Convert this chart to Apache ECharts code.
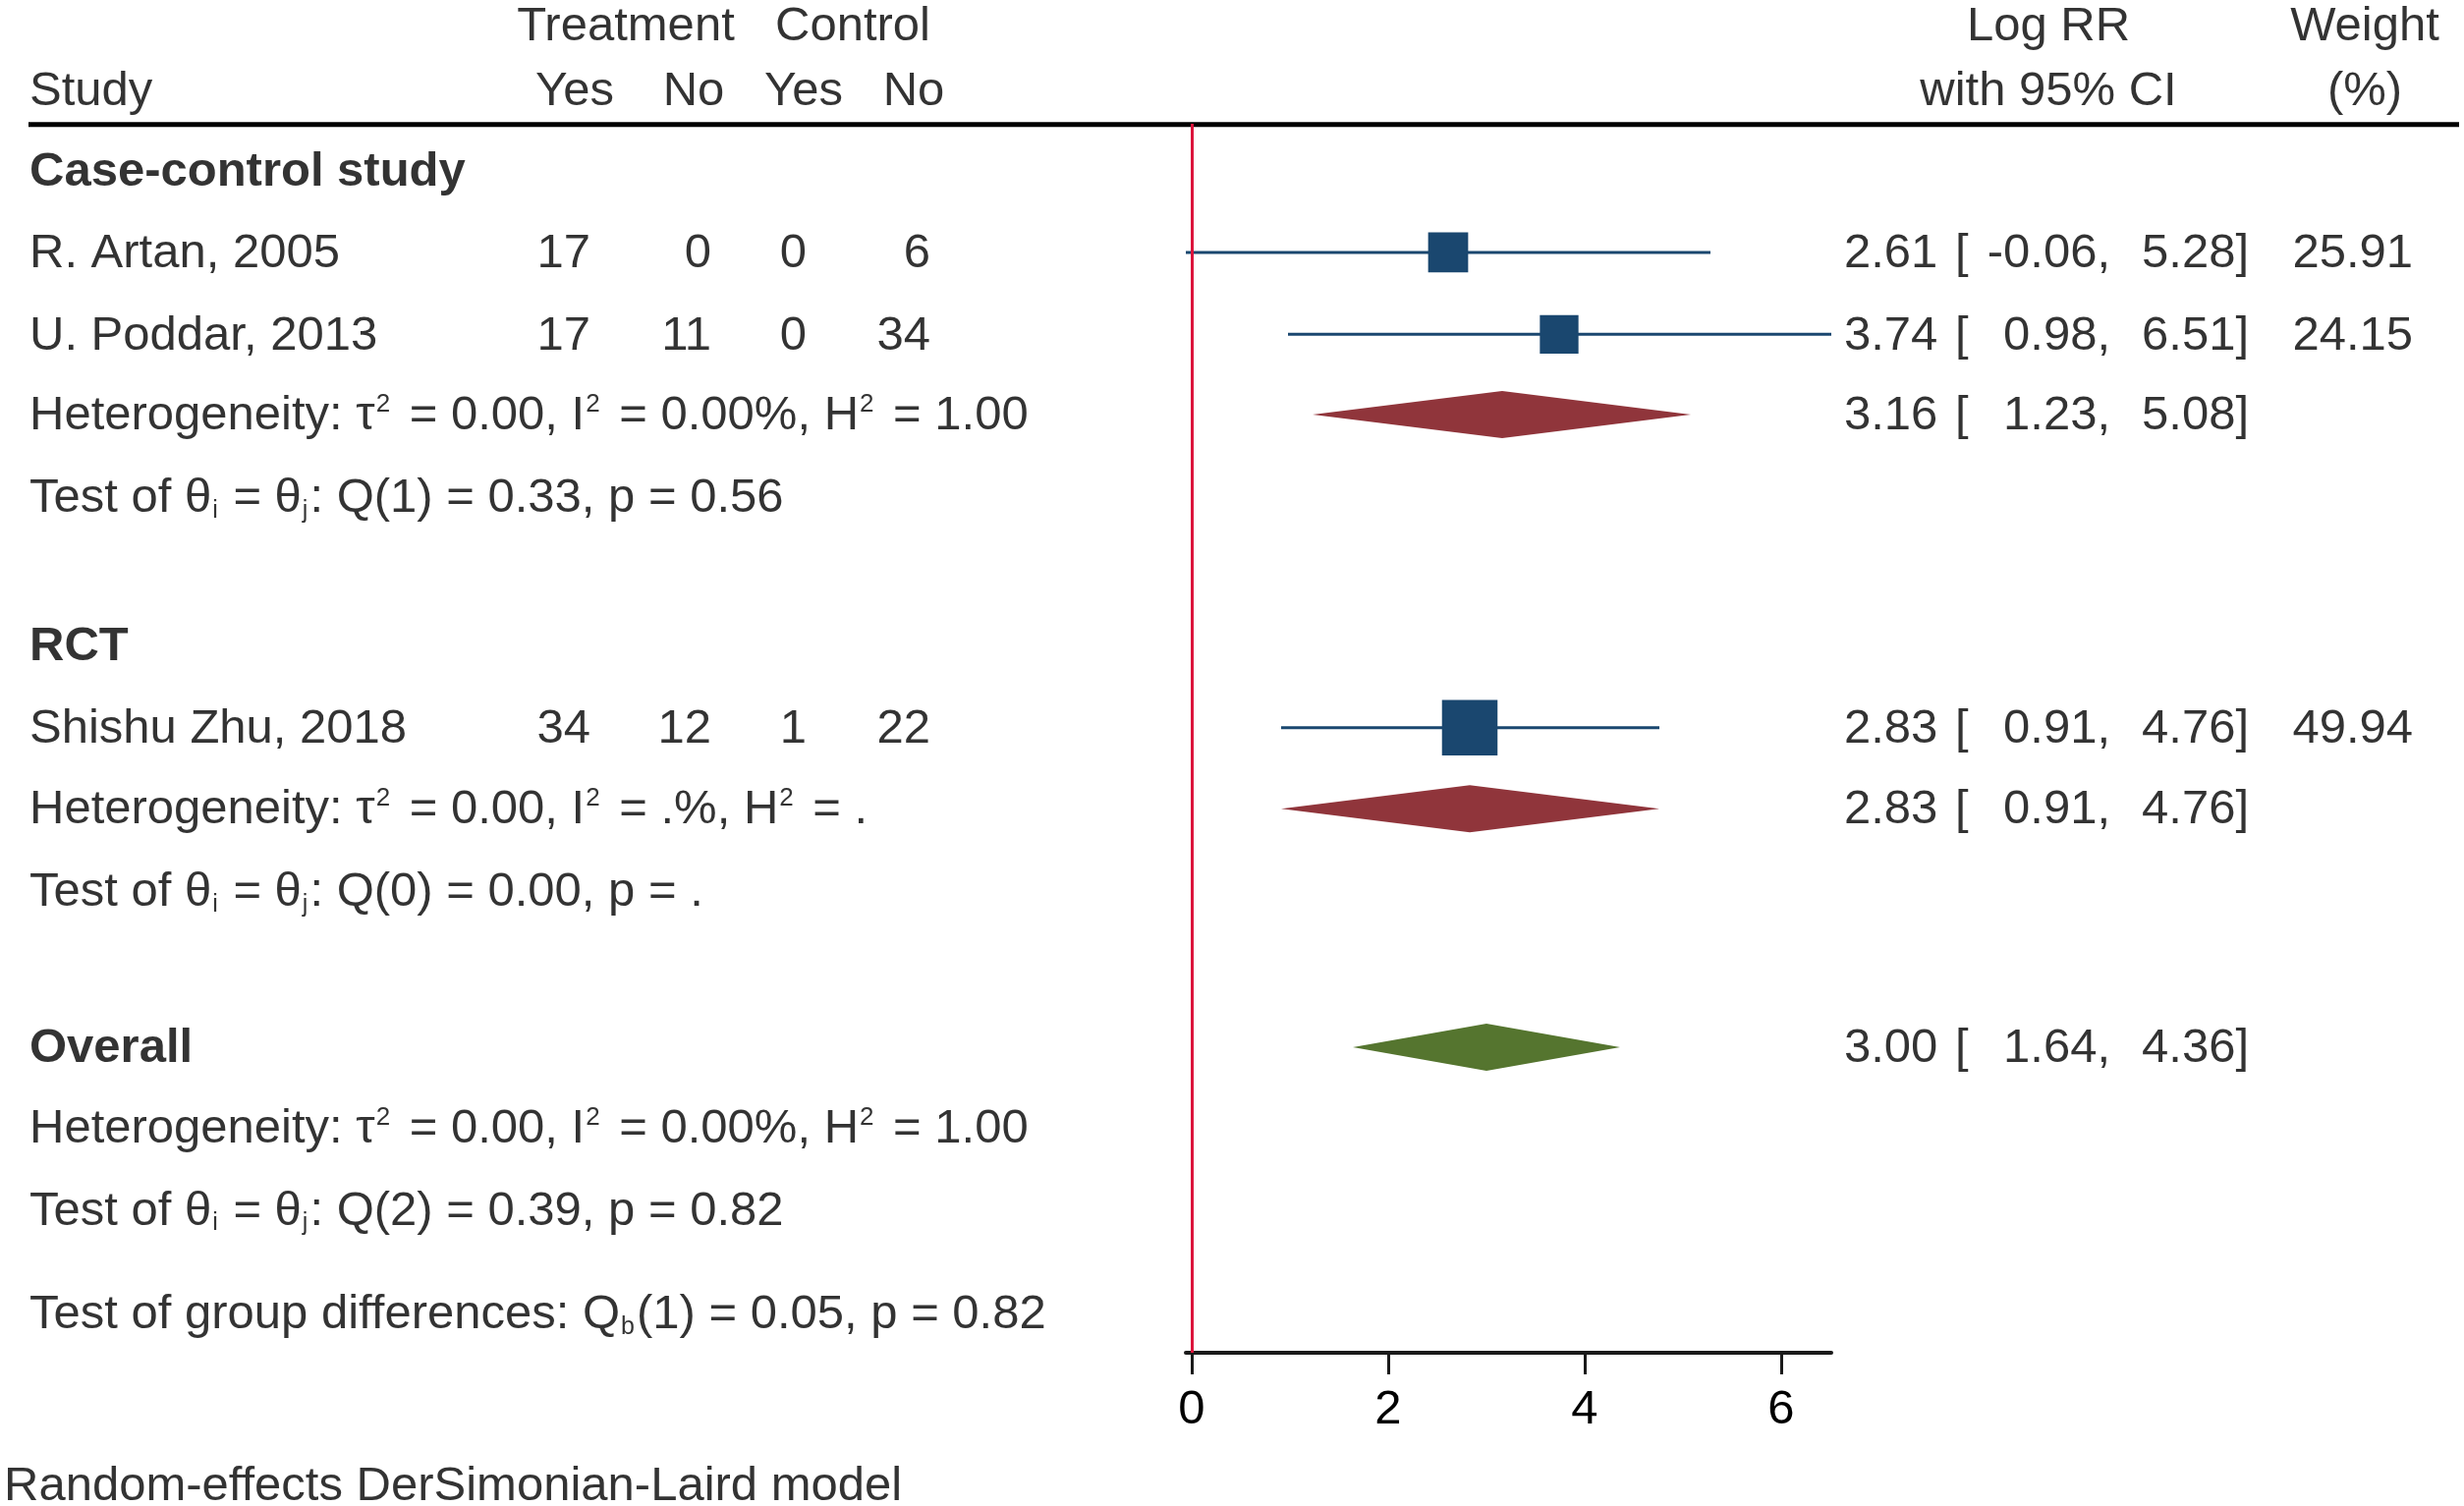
<!DOCTYPE html>
<html><head><meta charset="utf-8">
<script src="https://cdn.jsdelivr.net/npm/echarts@6.0.0/dist/echarts.min.js"></script>
<style>html,body{margin:0;padding:0;background:#fff}#c{width:2508px;height:1533px}</style>
</head><body><div id="c"></div>
<script>
// ---------- data ----------
const studyNames = ['R. Artan, 2005', 'U. Poddar, 2013', 'Shishu Zhu, 2018'];
const treatYes = [17, 17, 34];
const treatNo = [0, 11, 12];
const ctrlYes = [0, 0, 1];
const ctrlNo = [6, 34, 22];
const logRR = [2.61, 3.74, 2.83];
const ciLow = [-0.06, 0.98, 0.91];
const ciHigh = [5.28, 6.51, 4.76];
const weights = [25.91, 24.15, 49.94];
const studyRows = [1.57, 2.57, 7.37];

const groupNames = ['Case-control study', 'RCT'];
const groupHeaderRows = [0.57, 6.37];
const groupEst = [3.16, 2.83];
const groupLow = [1.23, 0.91];
const groupHigh = [5.08, 4.76];
const groupPooledRows = [3.55, 8.36];
const groupTestRows = [4.55, 9.37];
const groupTau2 = ['0.00', '0.00'];
const groupI2 = ['0.00%', '.%'];
const groupH2 = ['1.00', '.'];
const groupQdf = [1, 0];
const groupQ = ['0.33', '0.00'];
const groupP = ['0.56', '.'];

const overallName = 'Overall';
const overallRow = 11.27;
const overallEst = 3.00, overallLow = 1.64, overallHigh = 4.36;
const overallHetRow = 12.26, overallTestRow = 13.26;
const overallTau2 = '0.00', overallI2 = '0.00%', overallH2 = '1.00';
const overallQdf = 2, overallQ = '0.39', overallP = '0.82';

const groupDiffRow = 14.53;
const groupDiffDf = 1, groupDiffQ = '0.05', groupDiffP = '0.82';

const xTicks = [0, 2, 4, 6];
const headerTop = ['Treatment', 'Control'];
const headerSub = ['Yes', 'No', 'Yes', 'No'];
const footnote = 'Random-effects DerSimonian-Laird model';

// ---------- layout ----------
const FONT = 'Liberation Sans, Arial, sans-serif';
const FS = 49;
const navy = '#1a476f', maroon = '#90353b', green = '#55752f', nullRed = '#dc143c';
const col = { study: 30, tYes: 601, tNo: 724, cYes: 821, cNo: 947,
  tHead: 637, cHead: 868, yesT: 585, noT: 706, yesC: 818, noC: 930,
  es: 1877, br: 1990, lo: 2148, hi: 2289, wt: 2456, esHead: 2085, wtHead: 2407, foot: 4 };
const headRow1 = -1.21, headRow2 = -0.41, footRow = 16.63, ruleRow = 0.02;

const texts = [];
function t(x, y, text, align, bold) {
  texts.push({ value: [x, y], text: text,
    label: { align: align || 'left', fontWeight: bold ? 'bold' : 'normal' } });
}
// header
t(col.tHead, headRow1, headerTop[0], 'center');
t(col.cHead, headRow1, headerTop[1], 'center');
t(col.study, headRow2, 'Study', 'left');
[col.yesT, col.noT, col.yesC, col.noC].forEach((x, i) => t(x, headRow2, headerSub[i], 'center'));
t(col.esHead, headRow1, 'Log RR', 'center');
t(col.esHead, headRow2, 'with 95% CI', 'center');
t(col.wtHead, headRow1, 'Weight', 'center');
t(col.wtHead, headRow2, '(%)', 'center');

function ciText(row, est, lo, hi) {
  t(col.es, row, est.toFixed(2), 'left');
  t(col.br, row, '[', 'left');
  t(col.lo, row, lo.toFixed(2) + ',', 'right');
  t(col.hi, row, hi.toFixed(2) + ']', 'right');
}
function hetText(row, tau2, i2, h2) {
  t(col.study, row, 'Heterogeneity: τ{sup|2} = ' + tau2 + ', I{sup|2} = ' + i2 + ', H{sup|2} = ' + h2, 'left');
}
function testText(row, df, q, p) {
  t(col.study, row, 'Test of θ{sub|i} = θ{sub|j}: Q(' + df + ') = ' + q + ', p = ' + p, 'left');
}
// studies
studyNames.forEach((n, i) => {
  const r = studyRows[i];
  t(col.study, r, n, 'left');
  t(col.tYes, r, String(treatYes[i]), 'right');
  t(col.tNo, r, String(treatNo[i]), 'right');
  t(col.cYes, r, String(ctrlYes[i]), 'right');
  t(col.cNo, r, String(ctrlNo[i]), 'right');
  ciText(r, logRR[i], ciLow[i], ciHigh[i]);
  t(col.wt, r, weights[i].toFixed(2), 'right');
});
groupNames.forEach((g, i) => {
  t(col.study, groupHeaderRows[i], g, 'left', true);
  hetText(groupPooledRows[i], groupTau2[i], groupI2[i], groupH2[i]);
  ciText(groupPooledRows[i], groupEst[i], groupLow[i], groupHigh[i]);
  testText(groupTestRows[i], groupQdf[i], groupQ[i], groupP[i]);
});
t(col.study, overallRow, overallName, 'left', true);
ciText(overallRow, overallEst, overallLow, overallHigh);
hetText(overallHetRow, overallTau2, overallI2, overallH2);
testText(overallTestRow, overallQdf, overallQ, overallP);
t(col.study, groupDiffRow, 'Test of group differences: Q{sub|b}(' + groupDiffDf + ') = ' + groupDiffQ + ', p = ' + groupDiffP, 'left');
t(col.foot, footRow, footnote, 'left');

const studyData = studyNames.map((n, i) => [logRR[i], ciLow[i], ciHigh[i], studyRows[i], weights[i]]);
const groupDiamonds = groupNames.map((g, i) => [groupEst[i], groupLow[i], groupHigh[i], groupPooledRows[i]]);
const overallDiamond = [[overallEst, overallLow, overallHigh, overallRow]];

function diamondSeries(data, color) {
  return {
    type: 'custom', xAxisIndex: 0, yAxisIndex: 0, silent: true, data: data,
    encode: { x: [0, 1, 2], y: 3 },
    renderItem: function (params, api) {
      const row = api.value(3);
      const pL = api.coord([api.value(1), row]);
      const pH = api.coord([api.value(2), row]);
      const pE = api.coord([api.value(0), row]);
      const h = 24;
      return { type: 'polygon',
        shape: { points: [[pL[0], pL[1]], [pE[0], pE[1] - h], [pH[0], pH[1]], [pE[0], pE[1] + h]] },
        style: { fill: color } };
    }
  };
}

const chart = echarts.init(document.getElementById('c'), null, { renderer: 'canvas' });
chart.setOption({
  animation: false,
  backgroundColor: '#ffffff',
  textStyle: { fontFamily: FONT },
  grid: [
    { left: 1207, right: 644, top: 126, bottom: 156 },
    { left: 0, right: 0, top: 0, bottom: 0 }
  ],
  xAxis: [
    { gridIndex: 0, type: 'value', min: -0.06, max: 6.51, position: 'bottom',
      axisLine: { show: true, onZero: false, lineStyle: { color: '#1a1a1a', width: 4 } },
      axisTick: { show: true, customValues: xTicks, length: 22, lineStyle: { color: '#1a1a1a', width: 3 } },
      axisLabel: { show: true, customValues: xTicks, fontSize: FS, color: '#000', fontFamily: FONT, margin: 34 },
      splitLine: { show: false } },
    { gridIndex: 1, type: 'value', min: 0, max: 2508, show: false }
  ],
  yAxis: [
    { gridIndex: 0, type: 'value', min: 0, max: 15, inverse: true, show: false },
    { gridIndex: 1, type: 'value', min: -1.5, max: 16.896, inverse: true, show: false }
  ],
  series: [
    { // header rule
      type: 'line', xAxisIndex: 1, yAxisIndex: 1, silent: true, symbol: 'none',
      data: [[29, ruleRow], [2503, ruleRow]], lineStyle: { color: '#000', width: 5 }
    },
    { // null line
      type: 'line', xAxisIndex: 0, yAxisIndex: 0, silent: true, symbol: 'none', data: [],
      markLine: { silent: true, symbol: 'none', label: { show: false },
        lineStyle: { color: nullRed, width: 3, type: 'solid' }, data: [{ xAxis: 0 }] }
    },
    { // study CIs and squares
      type: 'custom', xAxisIndex: 0, yAxisIndex: 0, silent: true, data: studyData,
      encode: { x: [0, 1, 2], y: 3 },
      renderItem: function (params, api) {
        const row = api.value(3);
        const pL = api.coord([api.value(1), row]);
        const pH = api.coord([api.value(2), row]);
        const pE = api.coord([api.value(0), row]);
        const s = 8 * Math.sqrt(api.value(4));
        return { type: 'group', children: [
          { type: 'line', shape: { x1: pL[0], y1: pL[1], x2: pH[0], y2: pH[1] },
            style: { stroke: navy, lineWidth: 3 } },
          { type: 'rect', shape: { x: pE[0] - s / 2, y: pE[1] - s / 2, width: s, height: s },
            style: { fill: navy } }
        ] };
      }
    },
    diamondSeries(groupDiamonds, maroon),
    diamondSeries(overallDiamond, green),
    { // text table
      type: 'scatter', xAxisIndex: 1, yAxisIndex: 1, silent: true, symbolSize: 0,
      itemStyle: { color: 'transparent' }, emphasis: { disabled: true },
      data: texts,
      label: {
        show: true, position: 'inside', verticalAlign: 'middle', offset: [0, 3],
        fontSize: FS, color: '#000', fontFamily: FONT, lineHeight: 50,
        formatter: function (p) { return p.data.text; },
        rich: {
          sup: { fontSize: 26, fontFamily: FONT, color: '#000', verticalAlign: 'top', lineHeight: 4, padding: [0, 6, 0, 1] },
          sub: { fontSize: 25, fontFamily: FONT, color: '#000', verticalAlign: 'bottom', lineHeight: 32, padding: [0, 2, 0, 1] }
        }
      }
    }
  ]
});
</script>
</body></html>
